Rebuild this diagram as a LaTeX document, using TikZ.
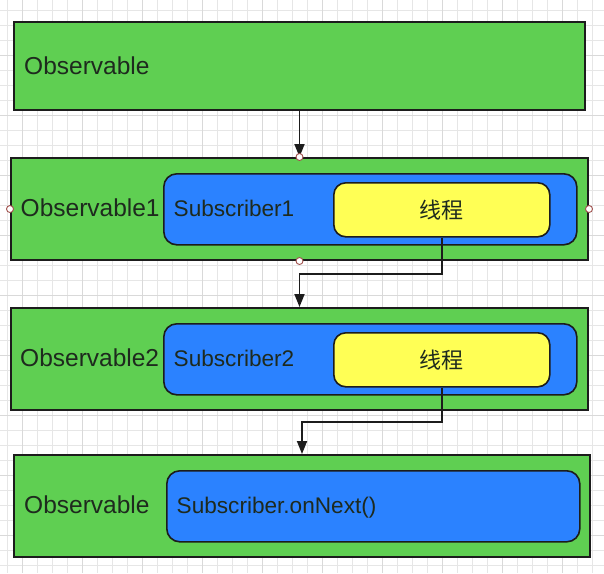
\documentclass[tikz,border=0pt]{standalone}
\usepackage{fontspec}
\setmainfont{Liberation Sans}
\newfontfamily\cjkfont{Noto Sans CJK SC}
\usetikzlibrary{arrows.meta,calc}
\definecolor{boxgreen}{HTML}{5FCF52}
\definecolor{boxblue}{HTML}{2B82FF}
\definecolor{boxyellow}{HTML}{FFFF55}
\definecolor{edgedark}{HTML}{1C1C1C}
\definecolor{textdark}{HTML}{1E2A1E}
\definecolor{gridminor}{HTML}{E6E6E6}
\definecolor{gridmajor}{HTML}{D9D9D9}
\definecolor{handlered}{HTML}{A0504C}
\tikzset{
  outerbox/.style={draw=edgedark, fill=boxgreen, line width=2pt, inner sep=0pt, anchor=north west},
  subbox/.style={draw=edgedark, fill=boxblue, line width=1.6pt, rounded corners=13pt, inner sep=0pt, anchor=north west},
  threadbox/.style={draw=edgedark, fill=boxyellow, line width=1.6pt, rounded corners=12pt, inner sep=0pt, anchor=north west},
  obstext/.style={anchor=base west, inner sep=0pt, text=textdark, font=\fontsize{24.5}{28}\selectfont},
  subtext/.style={anchor=base west, inner sep=0pt, text=textdark, font=\fontsize{22.6}{26}\selectfont},
  cjktext/.style={anchor=center, inner sep=0pt, text=textdark, font=\cjkfont\fontsize{22}{26}\selectfont},
  flow/.style={draw=edgedark, line width=1.8pt, -{Triangle[length=13pt,width=10pt]}},
  handle/.style={circle, draw=handlered, fill=white, line width=0.9pt, minimum size=7pt, inner sep=0pt}
}
\begin{document}
\begin{tikzpicture}[x=1pt,y=-1pt]
\useasboundingbox (0,0) rectangle (604,573);
\fill[white] (0,0) rectangle (604,573);
% grid
\foreach \k in {0,...,39} {
  \pgfmathtruncatemacro{\xx}{7+15*\k}
  \draw[gridminor, line width=1pt] (\xx,0) -- (\xx,573);
}
\foreach \k in {0,...,38} {
  \pgfmathtruncatemacro{\yy}{10+15*\k}
  \draw[gridminor, line width=1pt] (0,\yy) -- (604,\yy);
}
\foreach \k in {0,...,9} {
  \pgfmathtruncatemacro{\xx}{22+60*\k}
  \draw[gridmajor, line width=1pt] (\xx,0) -- (\xx,573);
}
\foreach \k in {0,...,9} {
  \pgfmathtruncatemacro{\yy}{55+60*\k}
  \draw[gridmajor, line width=1pt] (0,\yy) -- (604,\yy);
}

% box 1
\node[outerbox, minimum width=571pt, minimum height=88pt] (obs0) at (13,21) {};
\node[obstext] (obs0t) at (24,74.8) {Observable};

% box 2
\node[outerbox, minimum width=577pt, minimum height=102pt] (obs1) at (10,157) {};
\node[subbox, minimum width=413pt, minimum height=71pt] (sub1) at (163,173) {};
\node[threadbox, minimum width=216pt, minimum height=54pt] (thr1) at (333,182) {};
\node[obstext] (obs1t) at (20.5,216.8) {Observable1};
\node[subtext] (sub1t) at (173.5,216) {Subscriber1};
\node[cjktext] (thr1t) at (thr1.center) {线程};

% box 3
\node[outerbox, minimum width=577pt, minimum height=102pt] (obs2) at (10,307) {};
\node[subbox, minimum width=413pt, minimum height=71pt] (sub2) at (163,323) {};
\node[threadbox, minimum width=216pt, minimum height=54pt] (thr2) at (333,332) {};
\node[obstext] (obs2t) at (20,366.8) {Observable2};
\node[subtext] (sub2t) at (173.5,366) {Subscriber2};
\node[cjktext] (thr2t) at (thr2.center) {线程};

% box 4
\node[outerbox, minimum width=576pt, minimum height=102pt] (obs3) at (13,454) {};
\node[subbox, minimum width=413pt, minimum height=71pt] (sub3) at (166,470) {};
\node[obstext] (obs3t) at (24,513.8) {Observable};
\node[subtext] (sub3t) at (176.5,513) {Subscriber.onNext()};

% connectors
\draw[flow] (obs0.south) -- (obs1.north);
\draw[flow] (thr1.south) -- ++(0,36) -| (obs2.north);
\draw[flow] (thr2.south) -- ++(0,34) -| (obs3.north);

% selection handles
\node[handle] (h1) at (obs1.north) {};
\node[handle] (h2) at (obs1.south) {};
\node[handle] (h3) at (obs1.west) {};
\node[handle] (h4) at (obs1.east) {};
\end{tikzpicture}
\end{document}
